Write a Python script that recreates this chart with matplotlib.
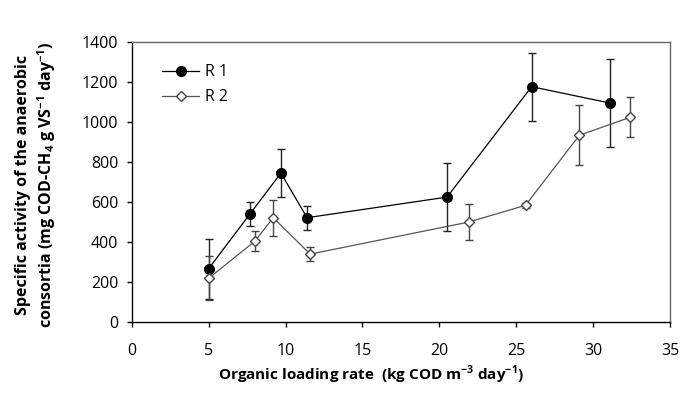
import matplotlib
matplotlib.use("Agg")
import matplotlib.pyplot as plt
from matplotlib.lines import Line2D

plt.rcParams['font.family'] = ['Open Sans', 'DejaVu Sans']
plt.rcParams['mathtext.fontset'] = 'custom'
plt.rcParams['mathtext.rm'] = 'Open Sans'
plt.rcParams['mathtext.bf'] = 'Open Sans:bold'

# Data
r1_x = [5.0, 7.7, 9.7, 11.4, 20.5, 26.0, 31.1]
r1_y = [265, 540, 743, 520, 623, 1175, 1093]
r1_err = [150, 60, 120, 60, 170, 170, 220]

r2_x = [5.0, 8.0, 9.2, 11.6, 21.9, 25.6, 29.1, 32.4]
r2_y = [217, 402, 520, 338, 498, 582, 932, 1022]
r2_err = [110, 50, 90, 37, 90, 12, 150, 100]

x_ticks = [0, 5, 10, 15, 20, 25, 30, 35]
y_ticks = [0, 200, 400, 600, 800, 1000, 1200, 1400]

fig = plt.figure(figsize=(6.81, 3.94), dpi=100)
ax = fig.add_axes([0.1934, 0.1835, 0.7906, 0.7107])

ax.errorbar(r1_x, r1_y, yerr=r1_err, color='black', ecolor='#222222', elinewidth=1,
            capsize=2.6, capthick=1, lw=0.9, marker='o', markersize=7,
            markerfacecolor='black', markeredgecolor='black', zorder=3)
ax.errorbar(r2_x, r2_y, yerr=r2_err, color='#555555', ecolor='#444444', elinewidth=1,
            capsize=2.6, capthick=1, lw=0.9, marker='D', markersize=4.8,
            markerfacecolor='white', markeredgecolor='#444444', zorder=3)

ax.set_xlim(0, 35)
ax.set_ylim(0, 1400)
ax.set_xticks(x_ticks)
ax.set_yticks(y_ticks)
ax.tick_params(direction='out', length=3.6, width=1, labelsize=11.5, colors='black')
ax.tick_params(axis='x', pad=12)
ax.tick_params(axis='y', pad=6)
for s in ax.spines.values():
    s.set_linewidth(1)
ax.spines['right'].set_color('#666666')
ax.spines['top'].set_color('#666666')

ax.set_xlabel(r'Organic loading rate  (kg COD m$^{\mathbf{-3}}$ day$^{\mathbf{-1}}$)',
              fontsize=11, fontweight='bold')
ax.xaxis.set_label_coords(0.445, -0.15)
fig.text(0.034, 0.53, 'Specific activity of the anaerobic', rotation=90,
         ha='center', va='center', fontsize=11.5, fontweight='bold')
fig.text(0.069, 0.53, r'consortia (mg COD-CH$_{\mathbf{4}}$ g VS$^{\mathbf{-1}}$ day$^{\mathbf{-1}}$)',
         rotation=90, ha='center', va='center', fontsize=11.5, fontweight='bold')

handles = [
    Line2D([], [], color='black', lw=0.9, marker='o', markersize=7,
           markerfacecolor='black', markeredgecolor='black'),
    Line2D([], [], color='#555555', lw=0.9, marker='D', markersize=4.8,
           markerfacecolor='white', markeredgecolor='#444444'),
]
ax.legend(handles, ['R 1', 'R 2'], loc='upper left', frameon=False, fontsize=11.5,
          handlelength=2.3, handletextpad=0.4, labelspacing=0.55,
          bbox_to_anchor=(0.03, 0.97))
fig.savefig('out.png', dpi=100)
